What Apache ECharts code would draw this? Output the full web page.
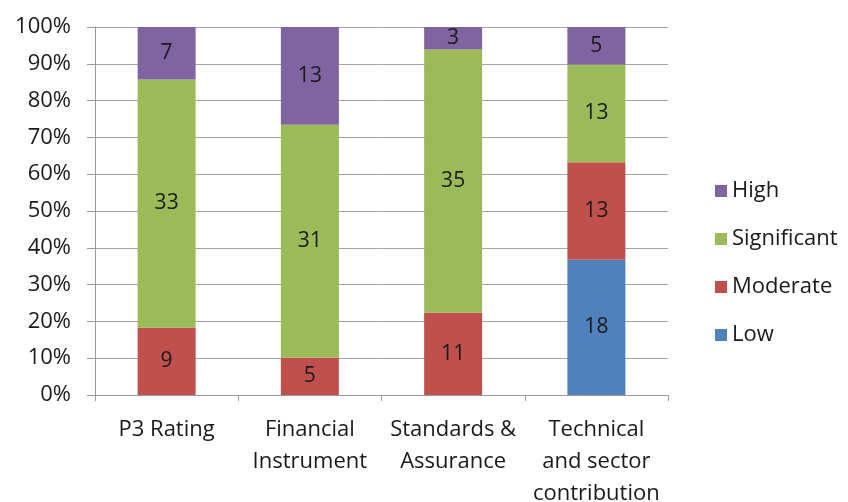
<!DOCTYPE html>
<html>
<head>
<meta charset="utf-8">
<script src="https://cdn.jsdelivr.net/npm/echarts@6/dist/echarts.min.js"></script>
<style>html,body{margin:0;padding:0;background:#fff;}#c{width:848px;height:502px;}</style>
</head>
<body>
<div id="c"></div>
<script>
var categories = ['P3 Rating', 'Financial\nInstrument', 'Standards &\nAssurance', 'Technical\nand sector\ncontribution'];
var low = [0, 0, 0, 18];
var moderate = [9, 5, 11, 13];
var significant = [33, 31, 35, 13];
var high = [7, 13, 3, 5];
var yTicks = [0, 10, 20, 30, 40, 50, 60, 70, 80, 90, 100];

var totals = categories.map(function (c, i) { return low[i] + moderate[i] + significant[i] + high[i]; });
function pct(arr) {
  return arr.map(function (v, i) { return { value: v ? v / totals[i] * 100 : null, count: v }; });
}
var FONT = 'Open Sans';
var FS = 22;
function mk(name, arr, color) {
  return {
    name: name, type: 'bar', stack: 's', data: pct(arr), barWidth: 58,
    itemStyle: { color: color },
    label: {
      show: true, position: 'inside', color: '#1a1a1a', fontFamily: FONT, fontSize: 21,
      formatter: function (p) { return p.data.count ? String(p.data.count) : ''; }
    }
  };
}
var chart = echarts.init(document.getElementById('c'));
chart.setOption({
  animation: false,
  backgroundColor: '#fff',
  grid: { left: 95, right: 180, top: 27, bottom: 107, outerBoundsMode: 'none', containLabel: false },
  legend: {
    orient: 'vertical', left: 710, top: 175, itemGap: 26,
    itemWidth: 12, itemHeight: 12, icon: 'rect',
    data: ['High', 'Significant', 'Moderate', 'Low'],
    textStyle: { fontFamily: FONT, fontSize: FS, lineHeight: 22, color: '#1a1a1a', padding: [0, 0, 0, 0] }
  },
  xAxis: {
    type: 'category', data: categories,
    axisLine: { lineStyle: { color: '#9a9a9a', width: 1 } },
    axisTick: { show: true, length: 6, lineStyle: { color: '#9a9a9a' } },
    axisLabel: { interval: 0, hideOverlap: false, fontFamily: FONT, fontSize: FS, color: '#1a1a1a', lineHeight: 32, margin: 19 }
  },
  yAxis: {
    type: 'value', min: 0, max: 100, interval: 10,
    axisLine: { show: true, lineStyle: { color: '#9a9a9a' } },
    axisTick: { show: true, length: 8, inside: false, lineStyle: { color: '#9a9a9a' } },
    splitLine: { show: true, lineStyle: { color: '#a6a6a6' } },
    axisLabel: { fontFamily: FONT, fontSize: FS, color: '#1a1a1a', margin: 24,
      formatter: function (v) { return yTicks.indexOf(v) >= 0 ? v + '%' : ''; } }
  },
  series: [
    mk('Low', low, '#4F81BD'),
    mk('Moderate', moderate, '#C0504D'),
    mk('Significant', significant, '#9BBB59'),
    mk('High', high, '#8064A2')
  ]
});
</script>
</body>
</html>
